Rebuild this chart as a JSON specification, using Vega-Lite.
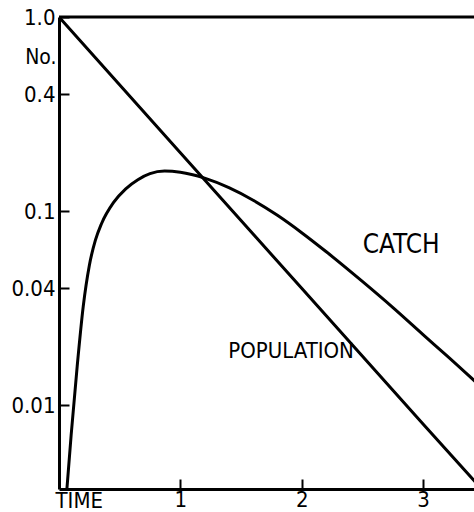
{
  "$schema": "https://vega.github.io/schema/vega-lite/v6.json",
  "width": 415,
  "height": 472,
  "autosize": "none",
  "padding": {"left": 59, "top": 17, "right": 0, "bottom": 23},
  "background": "white",
  "config": {"view": {"stroke": null}, "font": "DejaVu Sans Condensed", "text": {"font": "DejaVu Sans Condensed"}},
  "datasets": {
    "population": [
      {"time": 0, "number": 1.0},
      {"time": 1, "number": 0.2},
      {"time": 2, "number": 0.04},
      {"time": 3, "number": 0.008},
      {"time": 3.5, "number": 0.0036}
    ],
    "catch": [
      {"time": 0.062, "number": 0.0035},
      {"time": 0.10, "number": 0.0070},
      {"time": 0.15, "number": 0.0159},
      {"time": 0.20, "number": 0.0324},
      {"time": 0.25, "number": 0.0525},
      {"time": 0.30, "number": 0.0708},
      {"time": 0.35, "number": 0.0861},
      {"time": 0.45, "number": 0.1109},
      {"time": 0.55, "number": 0.1303},
      {"time": 0.65, "number": 0.1452},
      {"time": 0.75, "number": 0.156},
      {"time": 0.87, "number": 0.1607},
      {"time": 1.0, "number": 0.1585},
      {"time": 1.2, "number": 0.1479},
      {"time": 1.4, "number": 0.1321},
      {"time": 1.6, "number": 0.1138},
      {"time": 1.8, "number": 0.0951},
      {"time": 2.0, "number": 0.0774},
      {"time": 2.2, "number": 0.0619},
      {"time": 2.5, "number": 0.0434},
      {"time": 2.75, "number": 0.0319},
      {"time": 3.0, "number": 0.0231},
      {"time": 3.2, "number": 0.0179},
      {"time": 3.45, "number": 0.0129}
    ],
    "labels": [
      {"time": 2.82, "number": 0.067, "label": "CATCH"},
      {"time": 1.913, "number": 0.019, "label": "POPULATION"}
    ],
    "top": [{"number": 1.0}]
  },
  "layer": [
    {
      "data": {"name": "population"},
      "mark": {"type": "line", "color": "black", "strokeWidth": 3, "clip": true},
      "encoding": {
        "x": {
          "field": "time", "type": "quantitative",
          "scale": {"domain": [0, 3.42], "nice": false, "zero": false},
          "axis": {
            "values": [1, 2, 3],
            "format": "d",
            "grid": false,
            "tickSize": -10,
            "tickWidth": 2,
            "tickColor": "black",
            "domainColor": "black",
            "domainWidth": 3,
            "labelPadding": 10,
            "labelFontSize": 22,
            "labelColor": "black",
            "labelFont": "DejaVu Sans Condensed",
            "title": "TIME",
            "titleFont": "DejaVu Sans Condensed",
            "titleFontSize": 22,
            "titleFontWeight": "normal",
            "titleColor": "black",
            "titleAlign": "left",
            "titleBaseline": "top",
            "titleX": -4,
            "titleY": 1
          }
        },
        "y": {
          "field": "number", "type": "quantitative",
          "scale": {"type": "log", "domain": [0.0037, 1], "nice": false},
          "axis": {
            "values": [1, 0.4, 0.1, 0.04, 0.01],
            "labelExpr": "datum.value == 1 ? '1.0' : datum.value == 0.4 ? '0.4' : datum.value == 0.1 ? '0.1' : datum.value == 0.04 ? '0.04' : '0.01'",
            "grid": false,
            "tickSize": -10,
            "tickWidth": 2,
            "tickColor": "black",
            "domainColor": "black",
            "domainWidth": 3,
            "labelPadding": 14,
            "labelFontSize": 22,
            "labelColor": "black",
            "labelFont": "DejaVu Sans Condensed",
            "title": "No.",
            "titleFont": "DejaVu Sans Condensed",
            "titleFontSize": 21,
            "titleFontWeight": "normal",
            "titleColor": "black",
            "titleAngle": 0,
            "titleAlign": "right",
            "titleBaseline": "alphabetic",
            "titleX": -3,
            "titleY": 46
          }
        }
      }
    },
    {
      "data": {"name": "catch"},
      "mark": {"type": "line", "color": "black", "strokeWidth": 3, "clip": true, "interpolate": "monotone"},
      "encoding": {
        "x": {"field": "time", "type": "quantitative", "scale": {"domain": [0, 3.42], "nice": false, "zero": false}},
        "y": {"field": "number", "type": "quantitative", "scale": {"type": "log", "domain": [0.0037, 1], "nice": false}}
      }
    },
    {
      "data": {"name": "labels"},
      "mark": {"type": "text", "color": "black", "font": "DejaVu Sans Condensed"},
      "encoding": {
        "x": {"field": "time", "type": "quantitative", "scale": {"domain": [0, 3.42], "nice": false, "zero": false}},
        "y": {"field": "number", "type": "quantitative", "scale": {"type": "log", "domain": [0.0037, 1], "nice": false}},
        "text": {"field": "label"},
        "size": {"condition": {"test": "datum.label == 'CATCH'", "value": 26}, "value": 22}
      }
    },
    {
      "data": {"name": "top"},
      "mark": {"type": "rule", "color": "black", "strokeWidth": 3},
      "encoding": {
        "y": {"field": "number", "type": "quantitative", "scale": {"type": "log", "domain": [0.0037, 1], "nice": false}}
      }
    }
  ]
}
